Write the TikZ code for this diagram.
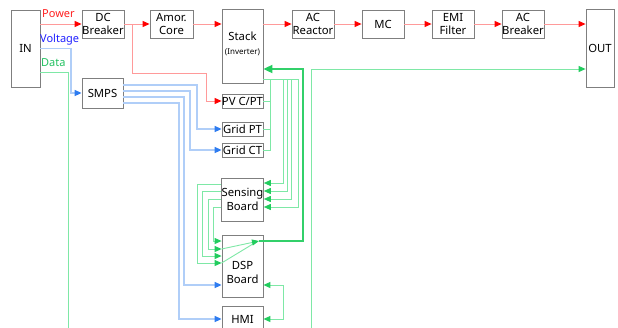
\documentclass[tikz,border=0pt]{standalone}
\usepackage{fontspec}
\setmainfont{Noto Sans}
\usetikzlibrary{arrows.meta,calc}
\definecolor{boxgray}{HTML}{7F7F7F}
\definecolor{pline}{HTML}{FF9A9A}
\definecolor{ptip}{HTML}{FF0000}
\definecolor{vline}{HTML}{B0CEF8}
\definecolor{vtip}{HTML}{2E7CF0}
\definecolor{dline}{HTML}{7EE8A6}
\definecolor{dtip}{HTML}{22CC5E}
\definecolor{dthick}{HTML}{33D06A}
\definecolor{ptext}{HTML}{FF2020}
\definecolor{vtext}{HTML}{2020FF}
\definecolor{dtext}{HTML}{22C060}
\begin{document}
\begin{tikzpicture}[x=1pt,y=-1pt,
  blk/.style={draw=boxgray, line width=0.8pt, fill=white, inner sep=0pt, align=center,
    font=\fontsize{11.3}{13.5}\selectfont},
  lbl/.style={inner sep=0pt, anchor=west, font=\fontsize{11}{12}\selectfont},
  pw/.style={draw=pline, line width=1pt, -{Triangle[length=7pt,width=6pt,color=ptip]}},
  vl/.style={draw=vline, line width=1.5pt, -{Triangle[length=7pt,width=6pt,color=vtip]}},
  dl/.style={draw=dline, line width=0.9pt, -{Triangle[length=7pt,width=6pt,color=dtip]}},
  dln/.style={draw=dline, line width=0.9pt},
  dth/.style={draw=dthick, line width=1.8pt, -{Triangle[length=9pt,width=8pt,color=dtip]}},
  dbi/.style={draw=dline, line width=0.9pt, {Triangle[length=7pt,width=6pt,color=dtip]}-{Triangle[length=7pt,width=6pt,color=dtip]}}
]
\useasboundingbox (0,0) rectangle (618,327);
\clip (0,0) rectangle (618,327);

% top row
\node[blk, minimum width=29pt, minimum height=77pt] (in) at (25.5,48.5) {IN};
\node[blk, minimum width=42pt, minimum height=28pt] (dc) at (103,24) {DC\\Breaker};
\node[blk, minimum width=43pt, minimum height=28pt] (amor) at (171.5,24) {Amor.\\Core};
\node[blk, minimum width=41pt, minimum height=74pt] (stack) at (242.5,46) {Stack\\[0pt]{\fontsize{8}{9}\selectfont(Inverter)}\\[-7.5pt]};
\node[blk, minimum width=42pt, minimum height=28pt] (acr) at (313,24) {AC\\Reactor};
\node[blk, minimum width=42pt, minimum height=28pt] (mc) at (383,24) {MC};
\node[blk, minimum width=42pt, minimum height=28pt] (emi) at (453,24) {EMI\\Filter};
\node[blk, minimum width=42pt, minimum height=28pt] (acb) at (523,24) {AC\\Breaker};
\node[blk, minimum width=28pt, minimum height=78pt] (out) at (600,48) {OUT};

% lower blocks
\node[blk, minimum width=41pt, minimum height=30pt] (smps) at (102.5,93) {SMPS};
\node[blk, minimum width=41pt, minimum height=14pt] (pv) at (242.5,101) {PV C/PT};
\node[blk, minimum width=41pt, minimum height=14pt] (gpt) at (242.5,129) {Grid PT};
\node[blk, minimum width=41pt, minimum height=14pt] (gct) at (242.5,150) {Grid CT};
\node[blk, minimum width=41pt, minimum height=43pt] (sens) at (242.5,199.5) {Sensing\\Board};
\node[blk, minimum width=41pt, minimum height=62pt, text depth=0pt] (dsp) at (242.5,266) {\\[7pt]DSP\\Board};
\node[blk, minimum width=41pt, minimum height=26pt] (hmi) at (242.5,319) {HMI};

% labels
\node[lbl, text=ptext] (lp) at (42,14) {Power};
\node[lbl, text=vtext] (lv) at (40,40) {Voltage};
\node[lbl, text=dtext] (ld) at (41,63) {Data};

% power path
\draw[pw] (in.east |- dc.west) -- (dc.west);
\draw[pw] (dc.east) -- (amor.west);
\draw[pw] (amor.east) -- (stack.west |- amor.east);
\draw[pw] (stack.east |- acr.west) -- (acr.west);
\draw[pw] (acr.east) -- (mc.west);
\draw[pw] (mc.east) -- (emi.west);
\draw[pw] (emi.east) -- (acb.west);
\draw[pw] (acb.east) -- (out.west |- acb.east);
\draw[pw] ([xshift=8pt]dc.east) |- (206,73) |- (pv.west);

% voltage path
\draw[vl] (in.east) -- (71,48.5) |- (smps.west);
\draw[vl] (smps.east |- 0,85) -- (197,85) |- (gpt.west);
\draw[vl] (smps.east |- 0,91) -- (190,91) |- (gct.west);
\draw[vl] (smps.east |- 0,97) -- (184,97) |- (dsp.west |- 0,285);
\draw[vl] (smps.east |- 0,103) -- (179,103) |- (hmi.west |- 0,319);

% data path
\draw[dln] (in.east |- 0,72) -- (68,72) -- (68,330);
\draw[dl] (311,330) |- (out.west |- 0,69);

% sensors to sensing board
\draw[dln] (pv.east) -- (270,101);
\draw[dln] (gpt.east) -- (270,129);
\draw[dln] (gct.east) -- (270,150) -- (270,79);
\draw[dl] (stack.east |- 0,79) -- (298,79) |- (sens.east |- 0,207);
\draw[dl] (283,79) |- (sens.east |- 0,183);
\draw[dl] (287,79) |- (sens.east |- 0,191);
\draw[dl] (291,79) |- (sens.east |- 0,199);

% sensing board to DSP
\draw[dl] (sens.west |- 0,184) -- (197,184) |- (dsp.west |- 0,263);
\draw[dl] (sens.west |- 0,191) -- (202,191) |- (dsp.west |- 0,256);
\draw[dl] (sens.west |- 0,199) -- (208,199) |- (dsp.west |- 0,249);
\draw[dl] (sens.west |- 0,207) -- (213,207) |- (dsp.west |- 0,241);
\draw[dln] (dsp.west |- 0,263) -- (257,241.5);
\coordinate (dtop) at (259,241);
\draw[dl] (dsp.west |- 0,249) -- (dtop);

% DSP to stack (thick)
\draw[dth] (dtop) -- (303,241) |- (stack.east |- 0,69);

% DSP <-> HMI
\draw[dbi] (dsp.east |- 0,285) -- (283,285) |- (hmi.east |- 0,319);
\end{tikzpicture}
\end{document}
